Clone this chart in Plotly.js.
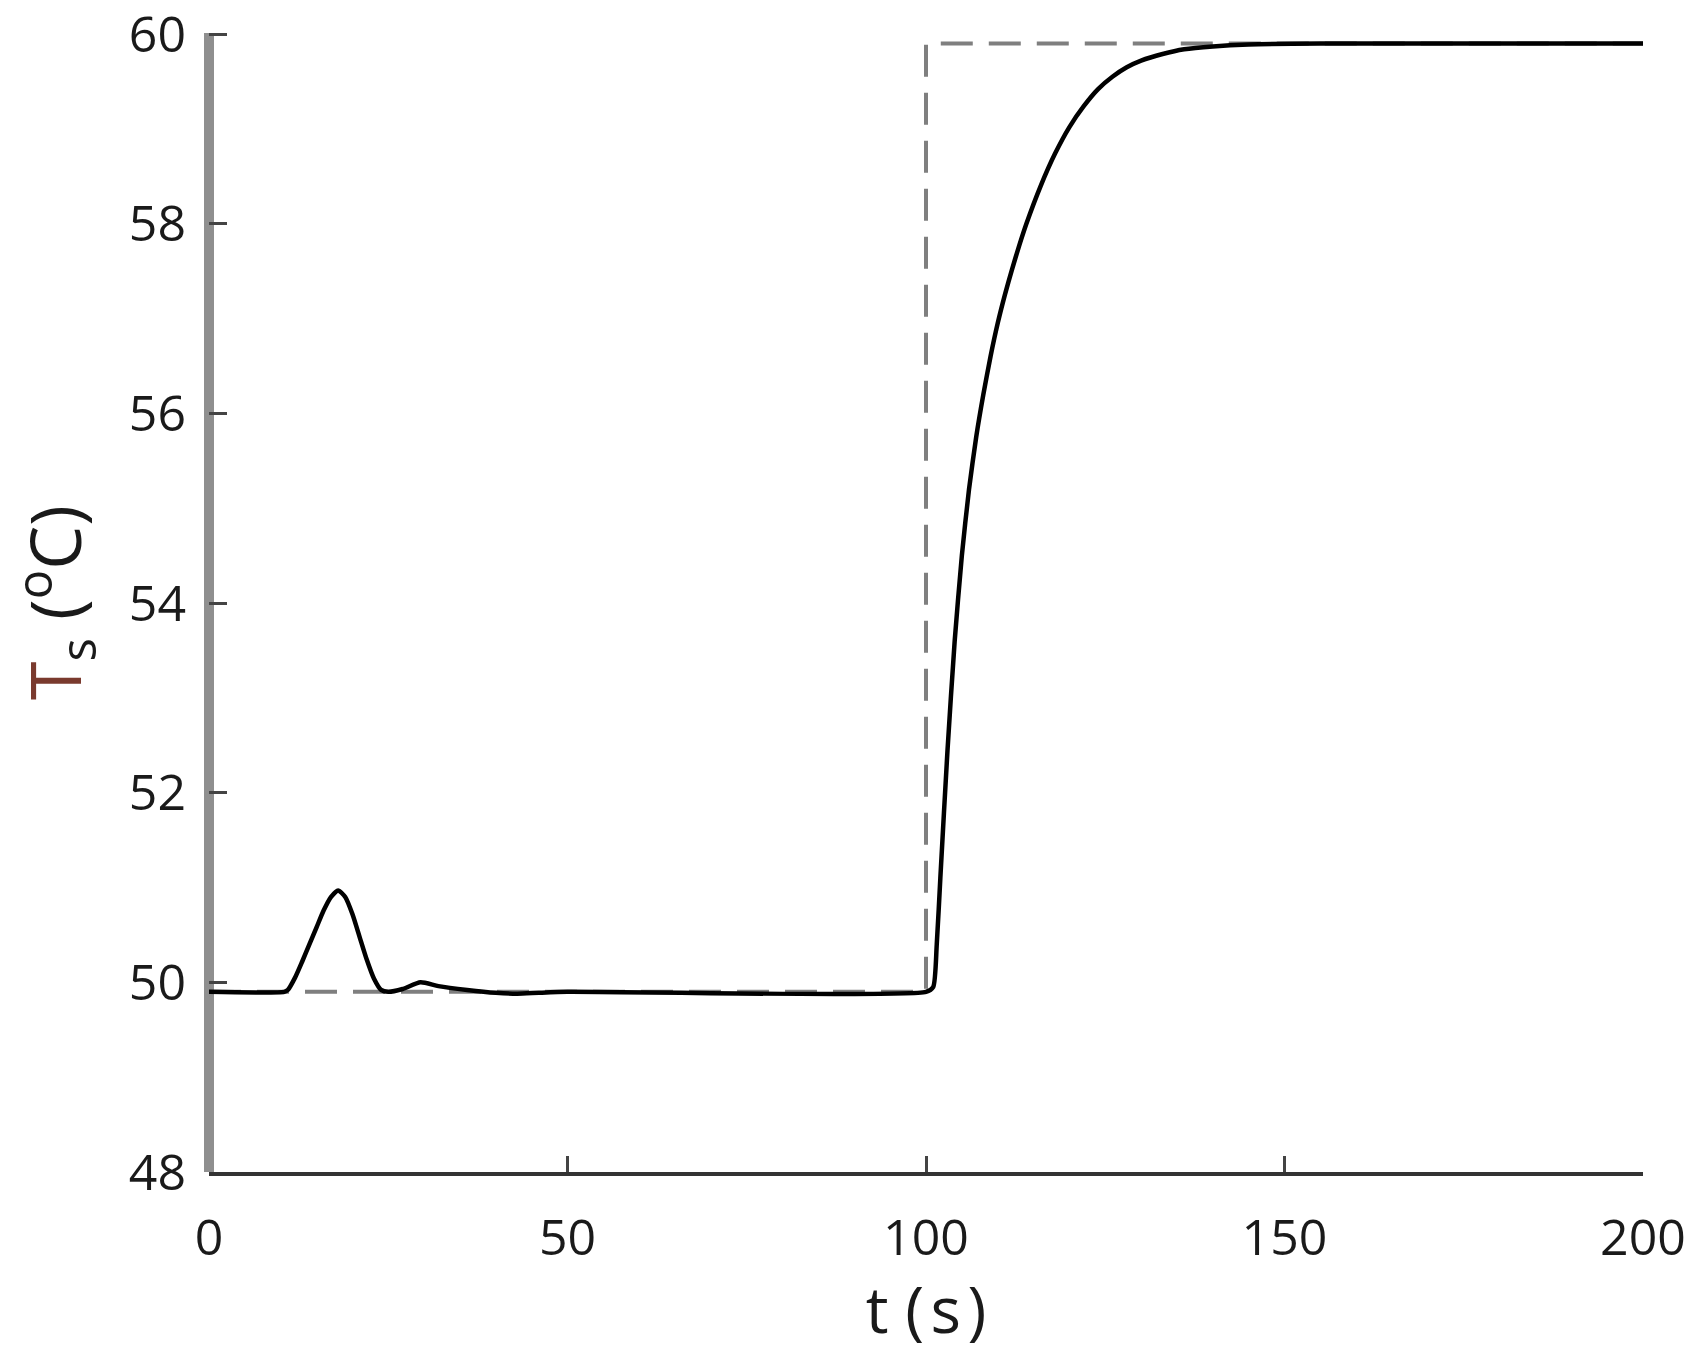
<!DOCTYPE html>
<html lang="en">
<head>
    <meta charset="UTF-8">
    <title>Ts response</title>
    <script src="https://cdn.plot.ly/plotly-3.0.1.min.js"></script>
    <style>
        body { margin: 0; background: white; }
        #plot { width: 1700px; height: 1352px; }
    </style>
</head>
<body>
    <div id="plot"></div>
    <script>
        // measured response T_s(t)
        const tResp = [0, 10.5, 11, 12, 13, 14, 15, 16, 17, 18, 19, 20, 21, 22, 23, 24, 25, 27, 29.5, 32, 36, 40, 43, 46, 50,
            100, 101, 101.5, 102, 103, 104, 105, 106, 107, 108, 109, 110, 111, 112, 113, 114, 116, 118, 120, 122, 124,
            126, 128, 130, 133, 136, 140, 145, 155, 200];
        const TResp = [49.9, 49.9, 49.92, 50.05, 50.22, 50.4, 50.58, 50.76, 50.9, 50.97, 50.9, 50.72, 50.48, 50.24, 50.04, 49.92, 49.9, 49.93, 50.0, 49.96, 49.92, 49.89, 49.88, 49.89, 49.9,
            49.9, 49.95, 50.4, 51.1, 52.45, 53.6, 54.5, 55.2, 55.75, 56.2, 56.6, 56.95, 57.25, 57.52, 57.77, 58.0, 58.4, 58.74, 59.02, 59.24, 59.42,
            59.55, 59.65, 59.72, 59.79, 59.84, 59.87, 59.89, 59.9, 59.9];

        // setpoint
        const tSet = [0, 100, 100, 200];
        const TSet = [49.9, 49.9, 59.9, 59.9];

        const xTicks = [0, 50, 100, 150, 200];
        const yTicks = [48, 50, 52, 54, 56, 58, 60];

        const traces = [
            {
                x: tSet,
                y: TSet,
                type: 'scatter',
                mode: 'lines',
                line: { color: '#7f7f7f', width: 4, dash: '32px,16px' },
                hoverinfo: 'skip'
            },
            {
                x: tResp,
                y: TResp,
                type: 'scatter',
                mode: 'lines',
                line: { color: '#000000', width: 4.5, shape: 'spline', smoothing: 0.6 },
                hoverinfo: 'skip'
            }
        ];

        const fam = 'Open Sans, Liberation Sans, sans-serif';
        const tickFont = { family: fam, size: 50, color: '#1a1a1a' };

        const layout = {
            width: 1700,
            height: 1352,
            showlegend: false,
            plot_bgcolor: 'white',
            paper_bgcolor: 'white',
            margin: { l: 209, r: 57, t: 33, b: 180 },
            xaxis: {
                range: [0, 200],
                tickvals: xTicks,
                ticks: 'inside',
                ticklen: 16,
                tickwidth: 3,
                tickcolor: '#444',
                tickfont: tickFont,
                ticklabelstandoff: 19,
                ticklabeloverflow: 'allow',
                showgrid: false,
                showline: true,
                linecolor: '#333',
                linewidth: 4,
                // vertical axis line drawn at t = 0
                zeroline: true,
                zerolinecolor: '#8f8f8f',
                zerolinewidth: 10,
                title: { text: 't (\u200as\u200a)', font: { family: fam, size: 64, color: '#1a1a1a' } }
            },
            yaxis: {
                range: [48, 60.012],
                tickvals: yTicks,
                ticks: 'inside',
                ticklen: 18,
                tickwidth: 3,
                tickcolor: '#444',
                tickfont: tickFont,
                ticklabelstandoff: 22,
                ticklabeloverflow: 'allow',
                showgrid: false,
                showline: false,
                zeroline: false,
                title: {
                    text: '<span style="color:#7a3a2e">T</span><sub>s</sub> (<sup>o</sup>C)',
                    font: { family: fam, size: 70, color: '#1a1a1a' }
                }
            }
        };

        Plotly.newPlot('plot', traces, layout, { staticPlot: true, displayModeBar: false });
    </script>
</body>
</html>
